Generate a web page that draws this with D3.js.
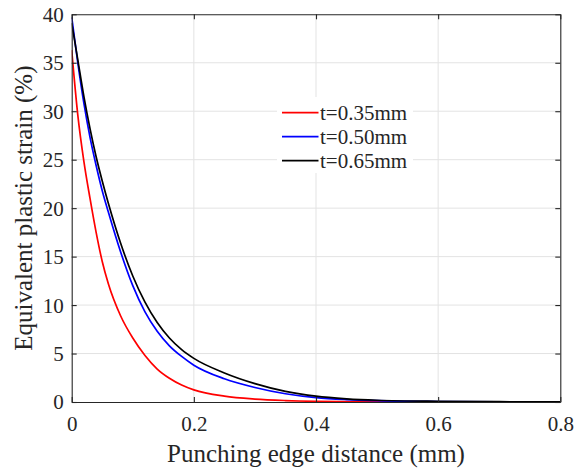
<!DOCTYPE html>
<html>
<head>
<meta charset="utf-8">
<script src="https://cdn.jsdelivr.net/npm/d3@7"></script>
<style>
  html, body { margin: 0; padding: 0; background: #fff; }
  svg { display: block; font-family: "Liberation Serif"; }
  svg text { font-family: "Liberation Serif"; fill: #262626; }
</style>
</head>
<body>
<svg id="chart" width="575" height="468"></svg>
<script>
// ---- data ----
const distance = [0, 0.01, 0.02, 0.03, 0.04, 0.05, 0.06, 0.08, 0.10, 0.12, 0.14, 0.16, 0.18, 0.20, 0.25, 0.30, 0.35, 0.40, 0.45, 0.50, 0.60, 0.70, 0.80];
const strain035 = [36.3, 29.6, 24.8, 21.0, 17.5, 14.5, 12.2, 8.9, 6.6, 4.8, 3.4, 2.45, 1.75, 1.25, 0.6, 0.3, 0.15, 0.07, 0.04, 0.02, 0.01, 0.0, 0.0];
const strain050 = [39.7, 35.0, 30.8, 27.3, 24.4, 21.8, 19.6, 15.5, 12.0, 9.3, 7.3, 5.8, 4.7, 3.8, 2.4, 1.5, 0.85, 0.45, 0.25, 0.14, 0.05, 0.02, 0.01];
const strain065 = [39.1, 35.3, 31.5, 28.2, 25.3, 22.8, 20.5, 16.4, 13.0, 10.3, 8.2, 6.6, 5.4, 4.5, 3.0, 1.9, 1.1, 0.6, 0.33, 0.18, 0.07, 0.03, 0.02];
const seriesNames = ["t=0.35mm", "t=0.50mm", "t=0.65mm"];
const seriesColors = ["#ff0000", "#0000ff", "#000000"];
const xTicks = [0, 0.2, 0.4, 0.6, 0.8];
const yTicks = [0, 5, 10, 15, 20, 25, 30, 35, 40];
const xLabel = "Punching edge distance (mm)";
const yLabel = "Equivalent plastic strain (%)";

const series = [strain035, strain050, strain065];
const FONT = '"Liberation Serif", "Times New Roman", Tinos, serif';

// ---- layout ----
const svg = d3.select("#chart");
const L = 71.7, R = 560.3, T = 14.3, B = 402;
const x = d3.scaleLinear().domain([0, 0.8]).range([L, R]);
const y = d3.scaleLinear().domain([0, 40]).range([B, T]);

// grid
const grid = svg.append("g");
grid.selectAll("line.gx").data(xTicks.slice(1, -1)).join("line")
  .attr("x1", d => x(d)).attr("x2", d => x(d)).attr("y1", T).attr("y2", B)
  .attr("stroke", "#e3e3e3").attr("stroke-width", 1);
grid.selectAll("line.gy").data(yTicks.slice(1, -1)).join("line")
  .attr("x1", L).attr("x2", R).attr("y1", d => y(d)).attr("y2", d => y(d))
  .attr("stroke", "#e3e3e3").attr("stroke-width", 1);

// curves
const line = d3.line().x((d, i) => x(distance[i])).y(d => y(d)).curve(d3.curveMonotoneX);
svg.append("clipPath").attr("id", "clip").append("rect")
  .attr("x", L).attr("y", T - 2).attr("width", R - L).attr("height", B - T + 2);
svg.append("g").attr("clip-path", "url(#clip)")
  .selectAll("path").data(series).join("path")
  .attr("d", d => line(d))
  .attr("fill", "none")
  .attr("stroke", (d, i) => seriesColors[i])
  .attr("stroke-width", 1.7);

// axes (box style, inward ticks on all sides)
const tickLen = 5;
const axCol = "#262626";
const bottomAx = svg.append("g").attr("transform", `translate(0,${B})`)
  .call(d3.axisBottom(x).tickValues(xTicks).tickSizeInner(-tickLen).tickSizeOuter(0)
    .tickFormat(d => d === 0 ? "0" : d3.format(".1f")(d)));
const topAx = svg.append("g").attr("transform", `translate(0,${T})`)
  .call(d3.axisTop(x).tickValues(xTicks).tickSizeInner(-tickLen).tickSizeOuter(0).tickFormat(""));
const leftAx = svg.append("g").attr("transform", `translate(${L},0)`)
  .call(d3.axisLeft(y).tickValues(yTicks).tickSizeInner(-tickLen).tickSizeOuter(0).tickFormat(d3.format("d")));
const rightAx = svg.append("g").attr("transform", `translate(${R},0)`)
  .call(d3.axisRight(y).tickValues(yTicks).tickSizeInner(-tickLen).tickSizeOuter(0).tickFormat(""));
[bottomAx, topAx, leftAx, rightAx].forEach(g => {
  g.attr("font-family", FONT).attr("font-size", 21);
  g.select("path.domain").attr("stroke", axCol).attr("stroke-width", 1.1);
  g.selectAll(".tick line").attr("stroke", axCol).attr("stroke-width", 1.1);
  g.selectAll(".tick text").attr("fill", "#262626").style("font-family", FONT).style("font-size", "21px");
});
bottomAx.selectAll(".tick text").attr("y", 29).attr("dy", 0);
leftAx.selectAll(".tick text").attr("x", -8).attr("dy", "0.33em");

// legend
const lg = svg.append("g");
lg.append("rect").attr("x", 277).attr("y", 97).attr("width", 136).attr("height", 76).attr("fill", "#fff");
const rowY = [112.7, 136.7, 160.7];
seriesNames.forEach((name, i) => {
  lg.append("line").attr("x1", 282).attr("x2", 318.5).attr("y1", rowY[i]).attr("y2", rowY[i])
    .attr("stroke", seriesColors[i]).attr("stroke-width", 1.7);
  lg.append("text").attr("x", 320).attr("y", rowY[i]).attr("dy", "0.35em")
    .style("font-family", FONT).style("font-size", "21px").text(name);
});

// axis labels
svg.append("text").attr("x", (L + R) / 2).attr("y", 462).attr("text-anchor", "middle")
  .style("font-family", FONT).style("font-size", "25px").text(xLabel);
svg.append("text").attr("transform", `translate(32,${(T + B) / 2}) rotate(-90)`)
  .attr("text-anchor", "middle").style("font-family", FONT).style("font-size", "25px").text(yLabel);
</script>
</body>
</html>
